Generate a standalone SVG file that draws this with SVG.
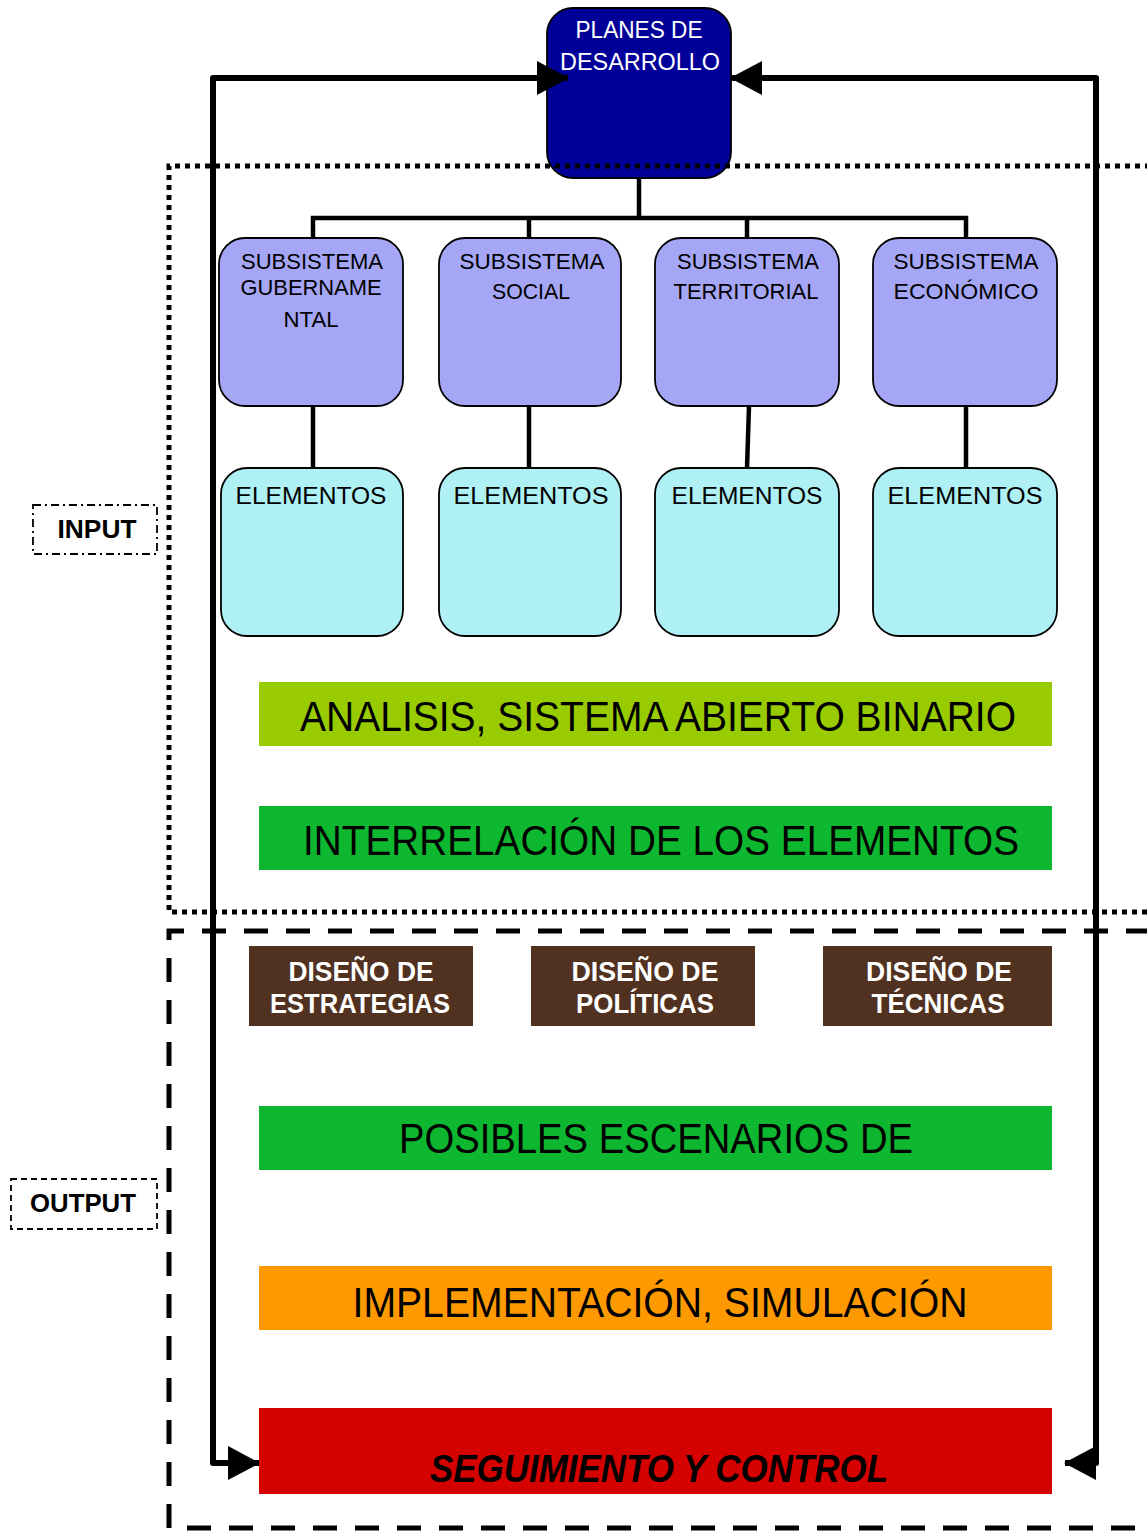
<svg xmlns="http://www.w3.org/2000/svg" width="1147" height="1531" viewBox="0 0 1147 1531">
<style>
text{font-family:"Liberation Sans",Arial,sans-serif;}
.sub{fill:#A5A6F6;stroke:#000;stroke-width:1.8;}
.el{fill:#AEF0F3;stroke:#000;stroke-width:1.8;}
.t20{font-size:22.5px;fill:#000;text-anchor:middle;}
.t22{font-size:24px;fill:#000;text-anchor:middle;}
.big{font-size:42px;fill:#000;text-anchor:middle;}
.brown{fill:#51311F;}
.bt{font-size:27px;font-weight:bold;fill:#fff;text-anchor:middle;}
.tree{fill:none;stroke:#000;stroke-width:4.5;}
.fb{fill:none;stroke:#000;stroke-width:6;stroke-linejoin:round;marker-start:url(#ah);marker-end:url(#ah);}
.lbl{font-size:26px;font-weight:bold;fill:#000;text-anchor:middle;}
</style>
<defs>
<marker id="ah" markerUnits="userSpaceOnUse" viewBox="0 0 32 34" markerWidth="32" markerHeight="34" refX="31" refY="17" orient="auto-start-reverse">
<path d="M0,0 L32,17 L0,34 z" fill="#000"/>
</marker>
</defs>

<g id="node-planes">
<rect x="547" y="8" width="184" height="170" rx="26" fill="#000099" stroke="#000" stroke-width="1.8"/>
<text x="639" y="38" style="font-size:23.5px;fill:#fff;text-anchor:middle" textLength="127" lengthAdjust="spacingAndGlyphs">PLANES DE</text>
<text x="640" y="70" style="font-size:23.5px;fill:#fff;text-anchor:middle" textLength="160" lengthAdjust="spacingAndGlyphs">DESARROLLO</text>
</g>

<g id="connectors">
<path class="tree" d="M639,178 V218 M311,218 H968 M313,216 V238 M529,216 V238 M747,216 V238 M966,216 V238"/>
<path class="tree" d="M313,406 V468 M529,406 V468 M749,406 L747,468 M966,406 V468"/>
</g>

<g id="sub-gubernamental">
<rect class="sub" x="219" y="238" width="184" height="168" rx="26"/>
<text class="t20" x="312" y="269" textLength="142" lengthAdjust="spacingAndGlyphs">SUBSISTEMA</text>
<text class="t20" x="311" y="295" textLength="141" lengthAdjust="spacingAndGlyphs">GUBERNAME</text>
<text class="t20" x="311" y="327" textLength="55" lengthAdjust="spacingAndGlyphs">NTAL</text>
</g>
<g id="sub-social">
<rect class="sub" x="439" y="238" width="182" height="168" rx="26"/>
<text class="t20" x="532" y="269" textLength="145" lengthAdjust="spacingAndGlyphs">SUBSISTEMA</text>
<text class="t20" x="531" y="299" textLength="78" lengthAdjust="spacingAndGlyphs">SOCIAL</text>
</g>
<g id="sub-territorial">
<rect class="sub" x="655" y="238" width="184" height="168" rx="26"/>
<text class="t20" x="748" y="269" textLength="142" lengthAdjust="spacingAndGlyphs">SUBSISTEMA</text>
<text class="t20" x="746" y="299" textLength="145" lengthAdjust="spacingAndGlyphs">TERRITORIAL</text>
</g>
<g id="sub-economico">
<rect class="sub" x="873" y="238" width="184" height="168" rx="26"/>
<text class="t20" x="966" y="269" textLength="145" lengthAdjust="spacingAndGlyphs">SUBSISTEMA</text>
<text class="t20" x="966" y="299" textLength="145" lengthAdjust="spacingAndGlyphs">ECONÓMICO</text>
</g>

<g id="el-1">
<rect class="el" x="221" y="468" width="182" height="168" rx="26"/>
<text class="t22" x="311" y="504" textLength="151" lengthAdjust="spacingAndGlyphs">ELEMENTOS</text>
</g>
<g id="el-2">
<rect class="el" x="439" y="468" width="182" height="168" rx="26"/>
<text class="t22" x="531" y="504" textLength="155" lengthAdjust="spacingAndGlyphs">ELEMENTOS</text>
</g>
<g id="el-3">
<rect class="el" x="655" y="468" width="184" height="168" rx="26"/>
<text class="t22" x="747" y="504" textLength="151" lengthAdjust="spacingAndGlyphs">ELEMENTOS</text>
</g>
<g id="el-4">
<rect class="el" x="873" y="468" width="184" height="168" rx="26"/>
<text class="t22" x="965" y="504" textLength="155" lengthAdjust="spacingAndGlyphs">ELEMENTOS</text>
</g>

<g id="bar-analisis">
<rect x="259" y="682" width="793" height="64" fill="#99CC00"/>
<text class="big" x="658" y="731" textLength="716" lengthAdjust="spacingAndGlyphs">ANALISIS, SISTEMA ABIERTO BINARIO</text>
</g>
<g id="bar-interrelacion">
<rect x="259" y="806" width="793" height="64" fill="#0DB72F"/>
<text class="big" x="661" y="855" textLength="716" lengthAdjust="spacingAndGlyphs">INTERRELACIÓN DE LOS ELEMENTOS</text>
</g>

<g id="box-estrategias">
<rect class="brown" x="249" y="946" width="224" height="80"/>
<text class="bt" x="361" y="981" textLength="145" lengthAdjust="spacingAndGlyphs">DISEÑO DE</text>
<text class="bt" x="360" y="1013" textLength="180" lengthAdjust="spacingAndGlyphs">ESTRATEGIAS</text>
</g>
<g id="box-politicas">
<rect class="brown" x="531" y="946" width="224" height="80"/>
<text class="bt" x="645" y="981" textLength="147" lengthAdjust="spacingAndGlyphs">DISEÑO DE</text>
<text class="bt" x="645" y="1013" textLength="138" lengthAdjust="spacingAndGlyphs">POLÍTICAS</text>
</g>
<g id="box-tecnicas">
<rect class="brown" x="823" y="946" width="229" height="80"/>
<text class="bt" x="939" y="981" textLength="146" lengthAdjust="spacingAndGlyphs">DISEÑO DE</text>
<text class="bt" x="938" y="1013" textLength="133" lengthAdjust="spacingAndGlyphs">TÉCNICAS</text>
</g>

<g id="bar-posibles">
<rect x="259" y="1106" width="793" height="64" fill="#0DB72F"/>
<text class="big" x="656" y="1153" textLength="514" lengthAdjust="spacingAndGlyphs">POSIBLES ESCENARIOS DE</text>
</g>
<g id="bar-implementacion">
<rect x="259" y="1266" width="793" height="64" fill="#FF9900"/>
<text class="big" x="660" y="1317" textLength="615" lengthAdjust="spacingAndGlyphs">IMPLEMENTACIÓN, SIMULACIÓN</text>
</g>
<g id="bar-seguimiento">
<rect x="259" y="1408" width="793" height="86" fill="#D50000"/>
<text x="659" y="1482" style="font-size:39px;font-weight:bold;font-style:italic;fill:#000;text-anchor:middle" textLength="458" lengthAdjust="spacingAndGlyphs">SEGUIMIENTO Y CONTROL</text>
</g>

<g id="regions">
<path d="M1150,166 H169 V912 H1150" fill="none" stroke="#000" stroke-width="5" stroke-dasharray="5 5"/>
<path d="M1150,931 H169 V1528 H1150" fill="none" stroke="#000" stroke-width="5" stroke-dasharray="24 18"/>
</g>

<g id="feedback">
<path class="fb" d="M568,78 H213 V1463 H259"/>
<path class="fb" d="M731,78 H1096 V1463 H1065"/>
</g>

<g id="label-input">
<rect x="33" y="505" width="124" height="49" fill="none" stroke="#000" stroke-width="1.8" stroke-dasharray="8 4 2 4"/>
<text class="lbl" x="97" y="538" textLength="79" lengthAdjust="spacingAndGlyphs">INPUT</text>
</g>
<g id="label-output">
<rect x="11" y="1179" width="146" height="50" fill="none" stroke="#000" stroke-width="1.8" stroke-dasharray="6 4"/>
<text class="lbl" x="83" y="1212" textLength="106" lengthAdjust="spacingAndGlyphs">OUTPUT</text>
</g>
</svg>
